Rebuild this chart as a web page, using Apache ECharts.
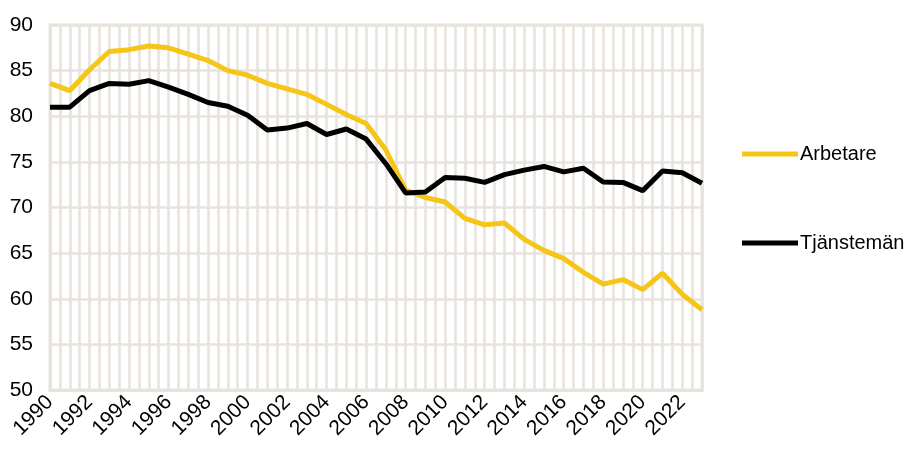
<!DOCTYPE html>
<html>
<head>
<meta charset="utf-8">
<script src="https://cdn.jsdelivr.net/npm/echarts@6/dist/echarts.min.js"></script>
<style>html,body{margin:0;padding:0;background:#fff}#c{width:911px;height:451px}</style>
</head>
<body>
<div id="c"></div>
<script>
const years = [1990,1991,1992,1993,1994,1995,1996,1997,1998,1999,2000,2001,2002,2003,2004,2005,2006,2007,2008,2009,2010,2011,2012,2013,2014,2015,2016,2017,2018,2019,2020,2021,2022,2023];
const arbetare = [83.6,82.8,85.1,87.1,87.3,87.7,87.5,86.8,86.1,85.0,84.5,83.6,83.0,82.4,81.3,80.2,79.2,76.3,71.9,71.1,70.6,68.8,68.1,68.3,66.5,65.3,64.4,62.9,61.6,62.1,61.0,62.8,60.5,58.8];
const tjansteman = [81.0,81.0,82.8,83.6,83.5,83.9,83.2,82.4,81.5,81.1,80.1,78.5,78.7,79.2,78.0,78.6,77.5,74.8,71.6,71.7,73.3,73.2,72.75,73.6,74.1,74.5,73.9,74.3,72.8,72.75,71.85,74.0,73.8,72.65];
const seriesNames = ['Arbetare','Tjänstemän'];
const yTicks = [50,55,60,65,70,75,80,85,90];

const grid = '#e8e3dc';
const font = 'Liberation Sans, Arial, sans-serif';
const chart = echarts.init(document.getElementById('c'));
chart.setOption({
  animation: false,
  backgroundColor: '#fff',
  grid: {left: 50, right: 209, top: 25, bottom: 61, show: true, borderColor: grid, borderWidth: 3},
  legend: {
    orient: 'vertical', left: 737, top: 139, itemGap: 69, itemWidth: 56, itemHeight: 5,
    icon: 'rect',
    textStyle: {fontFamily: font, fontSize: 20, color: '#000', padding: [0,0,0,-3]},
    data: seriesNames
  },
  xAxis: {
    type: 'value', min: years[0], max: years[years.length-1], interval: 0.5,
    axisLine: {show: true, lineStyle: {color: grid, width: 3}},
    axisTick: {show: false},
    splitLine: {show: true, lineStyle: {color: grid, width: 2.6}},
    axisLabel: {
      rotate: 45, fontFamily: font, fontSize: 21, color: '#000', margin: 9,
      showMaxLabel: false,
      formatter: v => (Number.isInteger(v) && v % 2 === 0) ? String(v) : ''
    }
  },
  yAxis: {
    type: 'value', min: yTicks[0], max: yTicks[yTicks.length-1], interval: 5,
    axisLine: {show: true, lineStyle: {color: grid, width: 3}},
    axisTick: {show: false},
    splitLine: {show: true, lineStyle: {color: grid, width: 2.6}},
    axisLabel: {fontFamily: font, fontSize: 21, color: '#000', margin: 17}
  },
  series: [
    {name: seriesNames[0], type: 'line', data: years.map((y,i)=>[y, arbetare[i]]), symbol: 'none',
     lineStyle: {color: '#F5C518', width: 5}, itemStyle: {color: '#F5C518'}},
    {name: seriesNames[1], type: 'line', data: years.map((y,i)=>[y, tjansteman[i]]), symbol: 'none',
     lineStyle: {color: '#000', width: 5}, itemStyle: {color: '#000'}}
  ]
});
</script>
</body>
</html>
